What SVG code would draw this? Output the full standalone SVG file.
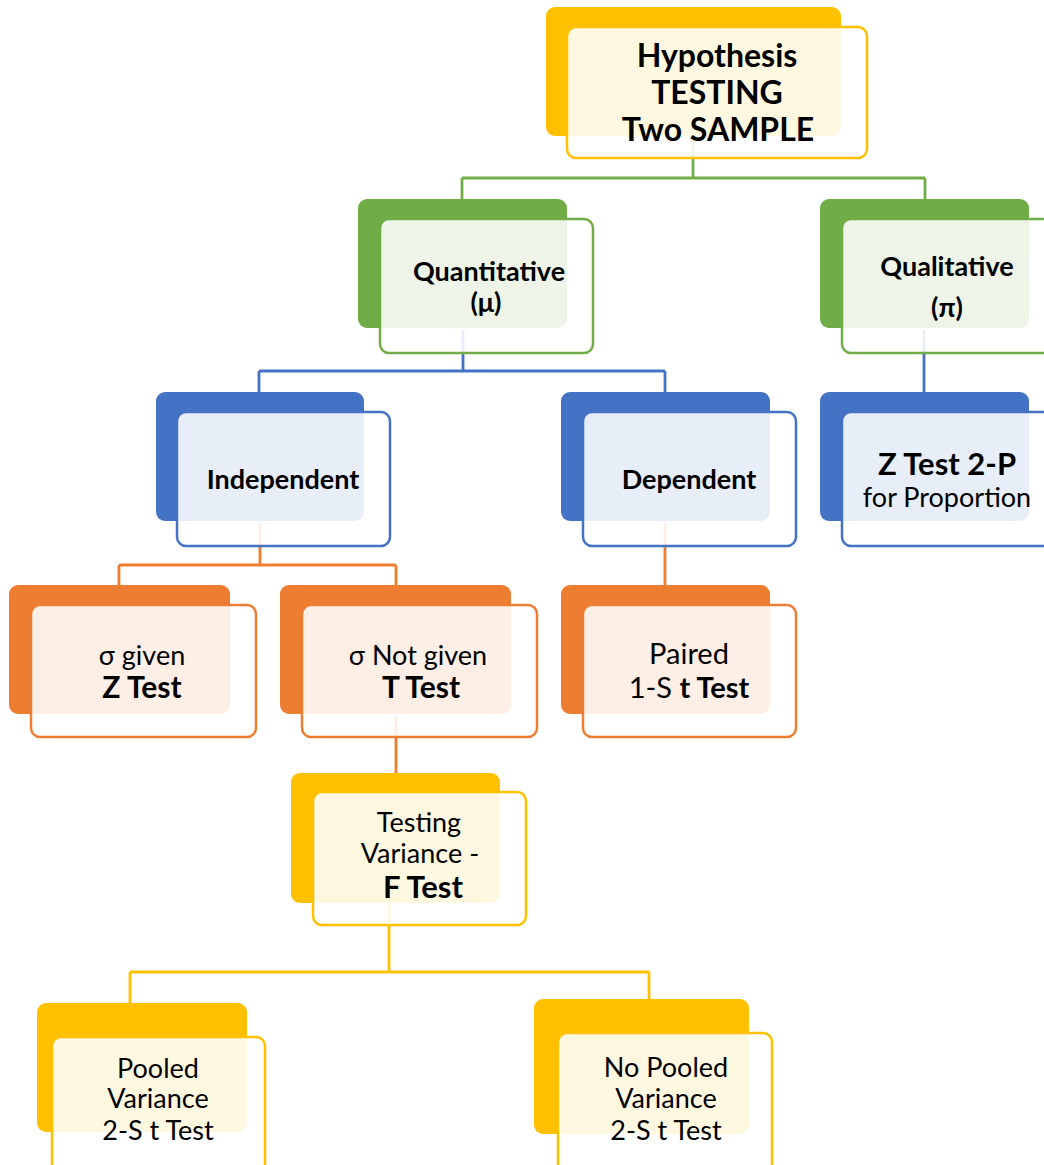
<svg xmlns="http://www.w3.org/2000/svg" width="1044" height="1165" viewBox="0 0 1044 1165">
<style>
  text { font-family: Lato, "Noto Sans", "DejaVu Sans", sans-serif; fill: #000; text-anchor: middle; }
  .b { font-weight: bold; }
  .t32 { font-size: 32px; }
  .t31 { font-size: 31px; }
  .t30 { font-size: 30px; }
  .t29 { font-size: 29px; }
  .t27 { font-size: 27px; }
  .front { fill: #ffffff; fill-opacity: 0.88; stroke-width: 2.5; }
  .c { fill: none; stroke-width: 2.8; }
  .y .back { fill: #FFC000; } .y .front { stroke: #FFC000; }
  .g .back { fill: #70AD47; } .g .front { stroke: #70AD47; }
  .bl .back { fill: #4472C4; } .bl .front { stroke: #4472C4; }
  .o .back { fill: #ED7D31; } .o .front { stroke: #ED7D31; }
</style>
<rect x="0" y="0" width="1044" height="1165" fill="#ffffff"/>
<g id="connectors">
  <path class="c" stroke="#70AD47" d="M693 136 V178 M462 178 H925 M462 178 V199 M925 178 V199"/>
  <path class="c" stroke="#4472C4" d="M463 330 V371 M259 371 H665 M259 371 V392 M665 371 V392 M924 330 V392"/>
  <path class="c" stroke="#ED7D31" d="M260 523 V565 M119 565 H396 M119 565 V585 M396 565 V585 M665 523 V585 M396 716 V773"/>
  <path class="c" stroke="#FFC000" d="M389 905 V972 M130 972 H649 M130 972 V1003 M649 972 V999"/>
</g>
<g id="n-hypothesis" class="y">
  <rect class="back" x="546" y="7" width="295" height="129" rx="9"/>
  <rect class="front" x="567" y="27" width="300" height="131" rx="9"/>
  <text class="b t32" x="717" y="67">Hypothesis</text>
  <text class="b t32" x="717" y="104">TESTING</text>
  <text class="b t32" x="718" y="141">Two SAMPLE</text>
</g>
<g id="n-quantitative" class="g">
  <rect class="back" x="358" y="199" width="209" height="129" rx="9"/>
  <rect class="front" x="380" y="219" width="213" height="134" rx="9"/>
  <text class="b t27" x="489" y="281">Quantitative</text>
  <text class="b t27" x="486" y="312">(μ)</text>
</g>
<g id="n-qualitative" class="g">
  <rect class="back" x="820" y="199" width="209" height="129" rx="9"/>
  <rect class="front" x="842" y="219" width="220" height="134" rx="9"/>
  <text class="b t27" x="947" y="276">Qualitative</text>
  <text class="b t27" x="947" y="317">(π)</text>
</g>
<g id="n-independent" class="bl">
  <rect class="back" x="156" y="392" width="208" height="129" rx="9"/>
  <rect class="front" x="177" y="412" width="213" height="134" rx="9"/>
  <text class="b t27" x="283" y="489">Independent</text>
</g>
<g id="n-dependent" class="bl">
  <rect class="back" x="561" y="392" width="209" height="129" rx="9"/>
  <rect class="front" x="583" y="412" width="213" height="134" rx="9"/>
  <text class="b t27" x="689" y="489">Dependent</text>
</g>
<g id="n-ztest2p" class="bl">
  <rect class="back" x="820" y="392" width="209" height="129" rx="9"/>
  <rect class="front" x="842" y="412" width="220" height="134" rx="9"/>
  <text class="b t31" x="947" y="475">Z Test 2-P</text>
  <text class="t27" x="947" y="507">for Proportion</text>
</g>
<g id="n-sigma-given" class="o">
  <rect class="back" x="9" y="585" width="221" height="129" rx="9"/>
  <rect class="front" x="31" y="605" width="225" height="132" rx="9"/>
  <text class="t27" x="142" y="665">σ given</text>
  <text class="b t30" x="142" y="698">Z Test</text>
</g>
<g id="n-sigma-not-given" class="o">
  <rect class="back" x="280" y="585" width="231" height="129" rx="9"/>
  <rect class="front" x="302" y="605" width="235" height="132" rx="9"/>
  <text class="t27" x="418" y="665">σ Not given</text>
  <text class="b t30" x="421" y="698">T Test</text>
</g>
<g id="n-paired" class="o">
  <rect class="back" x="561" y="585" width="209" height="129" rx="9"/>
  <rect class="front" x="583" y="605" width="213" height="132" rx="9"/>
  <text class="t29" x="689" y="664">Paired</text>
  <text class="t29" x="689" y="698">1-S <tspan class="b">t Test</tspan></text>
</g>
<g id="n-ftest" class="y">
  <rect class="back" x="291" y="773" width="209" height="130" rx="9"/>
  <rect class="front" x="313" y="792" width="213" height="133" rx="9"/>
  <text class="t27" x="419" y="832">Testing</text>
  <text class="t27" x="420" y="863">Variance -</text>
  <text class="b t31" x="423" y="898">F Test</text>
</g>
<g id="n-pooled" class="y">
  <rect class="back" x="37" y="1003" width="210" height="129" rx="9"/>
  <rect class="front" x="52" y="1037" width="213" height="140" rx="9"/>
  <text class="t27" x="158" y="1078">Pooled</text>
  <text class="t27" x="158" y="1108">Variance</text>
  <text class="t27" x="158" y="1140">2-S t Test</text>
</g>
<g id="n-nopooled" class="y">
  <rect class="back" x="534" y="999" width="215" height="135" rx="9"/>
  <rect class="front" x="558" y="1033" width="214" height="144" rx="9"/>
  <text class="t27" x="666" y="1077">No Pooled</text>
  <text class="t27" x="666" y="1108">Variance</text>
  <text class="t27" x="666" y="1140">2-S t Test</text>
</g>
</svg>
